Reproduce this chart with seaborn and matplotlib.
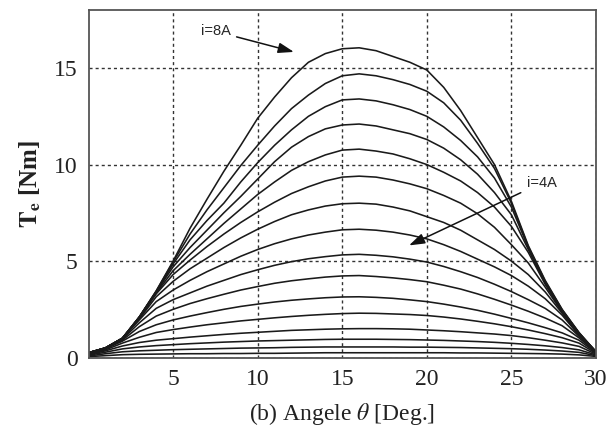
import matplotlib
matplotlib.use("Agg")
import matplotlib.pyplot as plt
import seaborn as sns
import pandas as pd

# ---- data ----
angles = list(range(0, 31))  # degrees

t_8_0 = [0.25,0.5,1.0,2.1,3.45,5.0,6.7,8.2,9.65,11.0,12.4,13.5,14.5,15.3,15.75,16.0,16.05,15.9,15.6,15.3,14.9,14.0,12.8,11.4,10.0,8.1,5.8,4.0,2.5,1.3,0.3]
t_7_5 = [0.25,0.5,1.0,2.1,3.45,4.95,6.4,7.65,8.8,9.95,11.0,12.0,12.9,13.6,14.2,14.6,14.7,14.6,14.4,14.15,13.8,13.2,12.3,11.1,9.8,8.0,5.75,3.95,2.48,1.28,0.3]
t_7_0 = [0.25,0.5,1.0,2.1,3.4,4.85,6.1,7.1,8.0,9.1,10.1,11.0,11.8,12.5,13.0,13.35,13.4,13.3,13.1,12.85,12.5,11.95,11.25,10.4,9.3,7.8,5.7,3.9,2.45,1.27,0.3]
t_6_5 = [0.25,0.5,1.0,2.1,3.4,4.7,5.7,6.6,7.5,8.35,9.25,10.15,10.9,11.45,11.85,12.05,12.1,12.0,11.8,11.6,11.3,10.85,10.25,9.5,8.55,7.4,5.6,3.85,2.42,1.25,0.3]
t_6_0 = [0.25,0.5,1.0,2.1,3.35,4.5,5.35,6.15,6.95,7.7,8.45,9.1,9.7,10.15,10.5,10.75,10.8,10.7,10.55,10.3,10.0,9.6,9.15,8.55,7.8,6.8,5.45,3.8,2.4,1.23,0.3]
t_5_5 = [0.25,0.5,1.0,2.05,3.3,4.3,5.05,5.75,6.4,7.0,7.55,8.05,8.5,8.85,9.15,9.35,9.4,9.35,9.2,9.0,8.75,8.4,8.0,7.45,6.75,5.85,4.9,3.65,2.35,1.2,0.3]
t_5_0 = [0.25,0.5,1.0,2.0,3.15,3.95,4.6,5.15,5.7,6.2,6.65,7.05,7.4,7.65,7.85,7.97,8.0,7.95,7.8,7.6,7.3,7.0,6.6,6.1,5.6,5.0,4.3,3.4,2.3,1.18,0.3]
t_4_5 = [0.25,0.5,1.0,1.95,2.9,3.5,4.0,4.45,4.85,5.25,5.6,5.9,6.15,6.35,6.5,6.62,6.65,6.6,6.5,6.35,6.15,5.85,5.5,5.1,4.7,4.25,3.7,3.05,2.2,1.15,0.3]
t_4_0 = [0.25,0.5,0.95,1.8,2.55,3.0,3.35,3.7,4.0,4.3,4.55,4.78,4.97,5.12,5.23,5.32,5.35,5.3,5.22,5.1,4.95,4.72,4.45,4.15,3.8,3.42,3.0,2.55,1.95,1.1,0.28]
t_3_5 = [0.22,0.48,0.9,1.6,2.15,2.5,2.8,3.05,3.28,3.5,3.68,3.85,3.98,4.08,4.17,4.23,4.25,4.2,4.13,4.04,3.93,3.75,3.55,3.3,3.02,2.72,2.4,2.05,1.65,1.02,0.27]
t_3_0 = [0.2,0.45,0.85,1.35,1.7,1.95,2.15,2.33,2.5,2.65,2.77,2.88,2.97,3.04,3.1,3.14,3.15,3.12,3.07,2.99,2.9,2.77,2.62,2.45,2.25,2.03,1.8,1.55,1.28,0.9,0.25]
t_2_5 = [0.18,0.4,0.75,1.05,1.3,1.45,1.58,1.7,1.8,1.9,1.98,2.06,2.13,2.19,2.24,2.28,2.3,2.29,2.26,2.23,2.18,2.1,2.0,1.88,1.75,1.6,1.43,1.24,1.03,0.75,0.22]
t_2_0 = [0.15,0.35,0.6,0.78,0.9,0.98,1.06,1.13,1.2,1.26,1.31,1.36,1.41,1.44,1.47,1.49,1.5,1.5,1.49,1.47,1.43,1.39,1.34,1.28,1.22,1.14,1.03,0.9,0.76,0.58,0.18]
t_1_5 = [0.12,0.28,0.45,0.55,0.62,0.67,0.72,0.76,0.8,0.83,0.86,0.88,0.9,0.92,0.94,0.95,0.95,0.95,0.94,0.93,0.91,0.89,0.86,0.83,0.79,0.74,0.68,0.61,0.52,0.4,0.14]
t_1_0 = [0.08,0.2,0.3,0.35,0.38,0.41,0.43,0.45,0.47,0.49,0.5,0.51,0.53,0.54,0.55,0.55,0.55,0.55,0.55,0.54,0.54,0.53,0.52,0.5,0.48,0.46,0.43,0.39,0.34,0.27,0.1]
t_0_5 = [0.05,0.1,0.15,0.17,0.18,0.19,0.2,0.2,0.21,0.21,0.22,0.22,0.23,0.24,0.25,0.25,0.25,0.25,0.25,0.25,0.25,0.25,0.24,0.24,0.23,0.22,0.21,0.2,0.18,0.14,0.06]

currents = [8.0, 7.5, 7.0, 6.5, 6.0, 5.5, 5.0, 4.5, 4.0, 3.5, 3.0, 2.5, 2.0, 1.5, 1.0, 0.5]
series = [t_8_0, t_7_5, t_7_0, t_6_5, t_6_0, t_5_5, t_5_0, t_4_5, t_4_0,
          t_3_5, t_3_0, t_2_5, t_2_0, t_1_5, t_1_0, t_0_5]

x_ticks = [5, 10, 15, 20, 25, 30]
y_ticks = [0, 5, 10, 15]

rows = []
for cur, vals in zip(currents, series):
    for a, v in zip(angles, vals):
        rows.append({"theta": a, "torque": v, "current": cur})
df = pd.DataFrame(rows)

# ---- style ----
sns.set_style("white")
plt.rcParams["font.family"] = ["Liberation Serif", "DejaVu Serif"]
plt.rcParams["mathtext.fontset"] = "stix"

fig = plt.figure(figsize=(6.15, 4.42), dpi=100)
ax = fig.add_axes([0.144, 0.191, 0.825, 0.786])

sns.lineplot(data=df, x="theta", y="torque", hue="current",
             palette=["#1a1a1a"] * len(currents), legend=False,
             linewidth=1.15, estimator=None, ax=ax)

ax.set_xlim(0, 30)
ax.set_ylim(0, 18)
ax.set_xticks(x_ticks)
ax.set_yticks(y_ticks)
ax.tick_params(axis="both", labelsize=17, length=0, pad=8, colors="#222222")
ax.grid(True, color="#333333", linestyle=(0, (2.2, 2.2)), linewidth=1.0)
for s in ax.spines.values():
    s.set_color("#555555")
    s.set_linewidth(1.3)

ax.set_xlabel(r"(b) Angele $\theta$ [Deg.]", fontsize=17, color="#222222", labelpad=8)
ax.set_ylabel(r"$\mathbf{T_e}$ [Nm]", fontsize=18, fontweight="bold", color="#222222", labelpad=8)

arrow_kw = dict(arrowstyle="-|>,head_length=0.9,head_width=0.3", color="#111111", lw=1.1)
ax.annotate("i=8A", xy=(12.3, 15.8), xytext=(8.4, 16.9), fontsize=10.5,
            family=["Liberation Sans", "DejaVu Sans"], ha="right", va="center",
            arrowprops=arrow_kw)
ax.annotate("i=4A", xy=(18.8, 5.75), xytext=(25.9, 9.05), fontsize=10.5,
            family=["Liberation Sans", "DejaVu Sans"], ha="left", va="center",
            arrowprops=arrow_kw)

fig.savefig("out.png", dpi=100)
